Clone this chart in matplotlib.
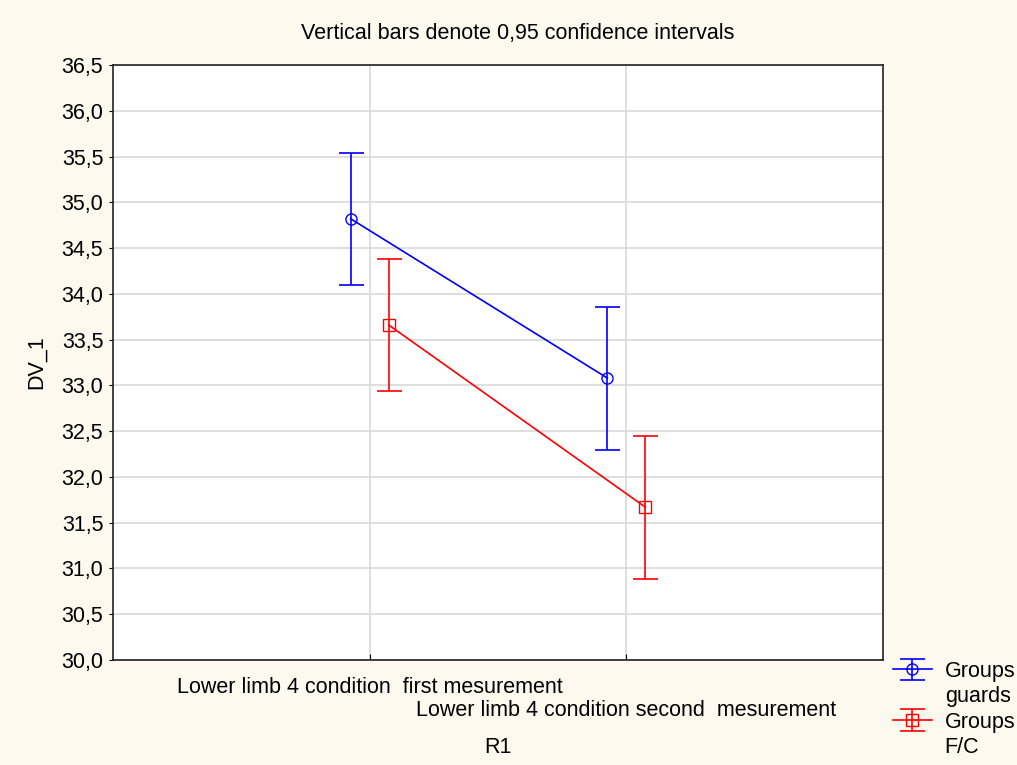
import numpy as np
import matplotlib.pyplot as plt
from matplotlib.lines import Line2D

plt.rcParams['font.family'] = ['Liberation Sans', 'DejaVu Sans']

# Datos
categorias = ["Lower limb 4 condition  first mesurement",
              "Lower limb 4 condition second  mesurement"]
guards_media = [34.82, 33.08]
guards_sup = [35.54, 33.86]
guards_inf = [34.10, 32.29]
fc_media = [33.66, 31.67]
fc_sup = [34.38, 32.45]
fc_inf = [32.94, 30.88]
yticks = np.arange(30.0, 36.51, 0.5)

fondo = '#fdf9ef'
fs = 15.5
fig = plt.figure(figsize=(10.17, 7.65), dpi=100, facecolor=fondo)
ax = fig.add_axes([113/1017, 1-660/765, 770/1017, 595/765])
ax.set_facecolor('white')

x = np.array([1, 2])
desp = 0.074


def serie(xs, media, sup, inf, color, marker):
    media = np.array(media)
    err = [media - np.array(inf), np.array(sup) - media]
    return ax.errorbar(xs, media, yerr=err, color=color, marker=marker, mfc='none',
                       mec=color, markersize=8, lw=1.2, elinewidth=1.2, capsize=9,
                       capthick=1.2, zorder=3)


h1 = serie(x - desp, guards_media, guards_sup, guards_inf, '#0000ff', 'o')
h2 = serie(x + desp, fc_media, fc_sup, fc_inf, '#ff0000', 's')

ax.set_xlim(0, 3)
ax.set_ylim(30.0, 36.5)
ax.set_yticks(yticks)
ax.set_yticklabels([f"{v:.1f}".replace('.', ',') for v in yticks], fontsize=fs)
ax.set_xticks(x)
ax.set_xticklabels(categorias, fontsize=fs)
ax.tick_params(axis='x', direction='in', length=4, pad=12.5)
ax.tick_params(axis='y', direction='out', length=3, pad=4)
# segunda etiqueta escalonada hacia abajo
ax.xaxis.get_major_ticks()[1].set_pad(29)
ax.grid(True, color='#d9d9d9', lw=1.2, zorder=0)
ax.set_axisbelow(True)
for s in ax.spines.values():
    s.set_linewidth(1.2)
    s.set_color('#222222')

ax.set_ylabel("DV_1", fontsize=fs, labelpad=10)
ax.set_xlabel("R1", fontsize=fs, labelpad=11)
fig.text(0.509, 1-33/765, "Vertical bars denote 0,95 confidence intervals",
         ha='center', va='center', fontsize=fs)

# leyenda: el símbolo va junto a la primera línea del texto
vacio = Line2D([], [], alpha=0)
fig.legend(handles=[h1, vacio, h2, vacio], labels=["Groups", "guards", "Groups", "F/C"],
           loc='upper left', bbox_to_anchor=(893/1017, 1-661/765),
           frameon=False, fontsize=fs, handlelength=1.8, handletextpad=0.6,
           labelspacing=0.2, borderpad=0, borderaxespad=0)

fig.savefig("out.png", dpi=100, facecolor=fondo)
